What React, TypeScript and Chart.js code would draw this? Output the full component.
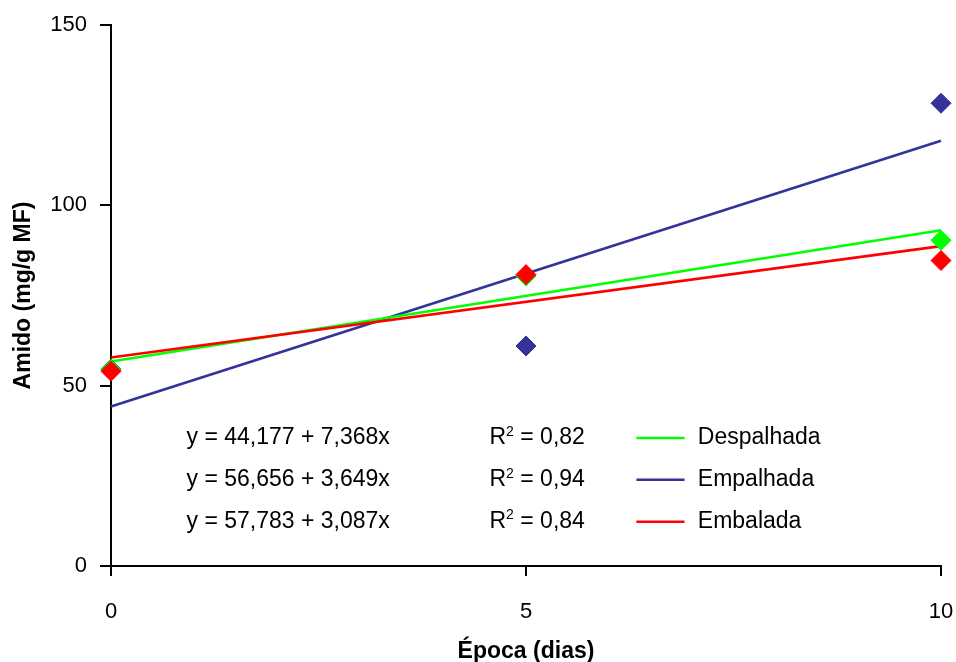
import React, { useEffect, useRef } from "react";
import { Chart, registerables } from "chart.js";

Chart.register(...registerables);

// Data
const days = [0, 5, 10];
const despalhada = [54.5, 80.4, 90.3];
const empalhada = [54.6, 61.0, 128.3];
const embalada = [54.0, 80.8, 84.7];

// Trend line endpoints (at day 0 and day 10)
const trendDays = [0, 10];
const despalhadaTrend = [56.7, 93.1];
const empalhadaTrend = [44.2, 117.9];
const embaladaTrend = [57.8, 88.7];

const seriesNames = ["Despalhada", "Empalhada", "Embalada"];
const equations = ["y = 44,177 + 7,368x", "y = 56,656 + 3,649x", "y = 57,783 + 3,087x"];
const r2Values = ["0,82", "0,94", "0,84"];

const xTicks = [0, 5, 10];
const yTicks = [0, 50, 100, 150];

const GREEN = "#00FF00";
const BLUE = "#333399";
const RED = "#FF0000";
const FONT = "'Liberation Sans', Arial, sans-serif";
const FS = 22;
const AFS = 23;
const TFS = 23;

const toPts = (xs: number[], ys: number[]) => xs.map((x, i) => ({ x, y: ys[i] }));

const annotationPlugin = {
  id: "eqAnnotations",
  afterDraw(chart: any) {
    const ctx = chart.ctx;
    const xs = chart.scales.x;
    const ys = chart.scales.y;
    const rowsY = [35.5, 23.9, 12.3];
    const colors = [GREEN, BLUE, RED];
    ctx.save();
    ctx.fillStyle = "#000";
    ctx.textBaseline = "middle";
    ctx.textAlign = "left";
    rowsY.forEach((yv, i) => {
      const py = ys.getPixelForValue(yv);
      ctx.font = `${AFS}px ${FONT}`;
      ctx.fillText(equations[i], xs.getPixelForValue(0.91), py);
      // R²
      let rx = xs.getPixelForValue(4.56);
      ctx.fillText("R", rx, py);
      rx += ctx.measureText("R").width;
      ctx.font = `${Math.round(AFS * 0.62)}px ${FONT}`;
      ctx.fillText("2", rx, py - 6);
      rx += ctx.measureText("2").width;
      ctx.font = `${AFS}px ${FONT}`;
      ctx.fillText(" = " + r2Values[i], rx, py);
      // legend
      ctx.strokeStyle = colors[i];
      ctx.lineWidth = 2.5;
      ctx.beginPath();
      ctx.moveTo(xs.getPixelForValue(6.33), py);
      ctx.lineTo(xs.getPixelForValue(6.91), py);
      ctx.stroke();
      ctx.fillText(seriesNames[i], xs.getPixelForValue(7.07), py);
    });
    ctx.restore();
  },
};

export default function App() {
  const ref = useRef<HTMLCanvasElement | null>(null);
  useEffect(() => {
    if (!ref.current) return;
    const pointDs = (label: string, ys: number[], color: string, order: number) => ({
      type: "scatter" as const,
      label,
      data: toPts(days, ys),
      backgroundColor: color,
      borderColor: color,
      borderWidth: 1,
      pointStyle: "rectRot",
      pointRadius: 10,
      showLine: false,
      clip: false,
      order,
    });
    const lineDs = (label: string, ys: number[], color: string, order: number) => ({
      type: "line" as const,
      label,
      data: toPts(trendDays, ys),
      borderColor: color,
      backgroundColor: color,
      borderWidth: 2.7,
      pointRadius: 0,
      fill: false,
      tension: 0,
      clip: false,
      order,
    });
    const chart = new Chart(ref.current, {
      type: "scatter",
      data: {
        datasets: [
          pointDs(seriesNames[2], embalada, RED, 1),
          pointDs(seriesNames[0], despalhada, GREEN, 2),
          pointDs(seriesNames[1], empalhada, BLUE, 3),
          lineDs(seriesNames[2] + " tendência", embaladaTrend, RED, 4),
          lineDs(seriesNames[0] + " tendência", despalhadaTrend, GREEN, 5),
          lineDs(seriesNames[1] + " tendência", empalhadaTrend, BLUE, 6),
        ] as any,
      },
      options: {
        animation: false,
        responsive: false,
        layout: { padding: { top: 25, right: 15, left: 0, bottom: 0 } },
        plugins: { legend: { display: false }, tooltip: { enabled: false } },
        scales: {
          x: {
            type: "linear",
            min: 0,
            max: 10,
            afterBuildTicks: (s: any) => {
              s.ticks = xTicks.map((v) => ({ value: v }));
            },
            ticks: { color: "#000", font: { family: FONT, size: FS }, padding: 23 },
            grid: { drawOnChartArea: false, drawTicks: true, tickLength: 10, color: "#000", lineWidth: 2 },
            border: { display: true, color: "#000", width: 2 },
            title: {
              display: true,
              text: "Época (dias)",
              color: "#000",
              font: { family: FONT, size: TFS, weight: "bold" },
              padding: { top: 0, bottom: -3 },
            },
            afterFit: (s: any) => {
              s.height = 96;
              s.paddingLeft = 0;
              s.paddingRight = 0;
            },
          },
          y: {
            type: "linear",
            min: 0,
            max: 150,
            afterBuildTicks: (s: any) => {
              s.ticks = yTicks.map((v) => ({ value: v }));
            },
            ticks: { color: "#000", font: { family: FONT, size: FS }, padding: 13 },
            grid: { drawOnChartArea: false, drawTicks: true, tickLength: 11, color: "#000", lineWidth: 2 },
            border: { display: true, color: "#000", width: 2 },
            title: {
              display: true,
              text: "Amido (mg/g MF)",
              color: "#000",
              font: { family: FONT, size: TFS, weight: "bold" },
              padding: { top: 10, bottom: 0 },
            },
            afterFit: (s: any) => {
              s.width = 111;
              s.paddingTop = 0;
              s.paddingBottom = 0;
            },
          },
        },
      },
      plugins: [annotationPlugin],
    });
    return () => chart.destroy();
  }, []);
  return (
    <div style={{ position: "absolute", left: 0, top: 0, width: 956, height: 662, background: "#fff" }}>
      <canvas ref={ref} width={956} height={662} />
    </div>
  );
}
